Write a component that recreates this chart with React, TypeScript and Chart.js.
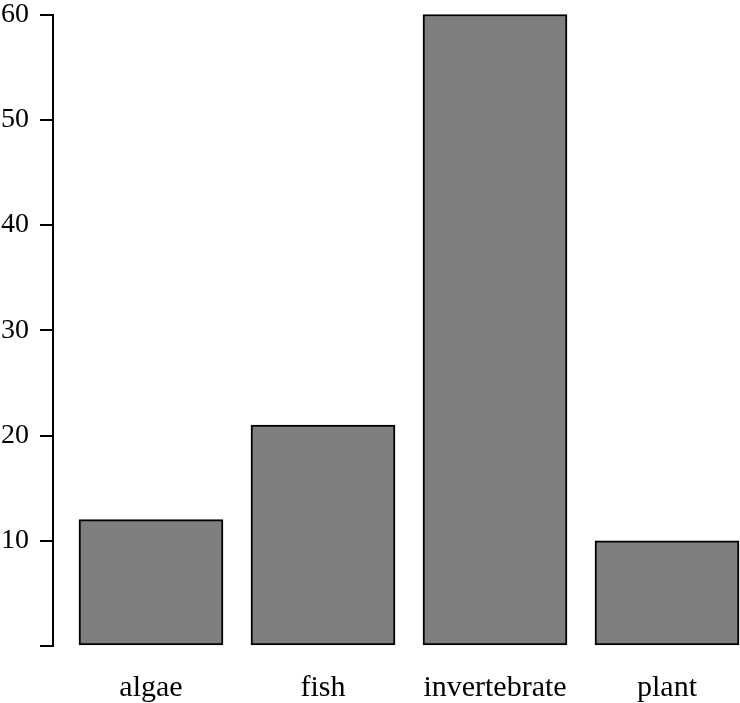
import React, { useEffect, useRef } from "react";
import { Chart, registerables } from "chart.js";

Chart.register(...registerables);

const categories = ["algae", "fish", "invertebrate", "plant"];
const values = [12, 21, 60, 10];
const yTicks = [0, 10, 20, 30, 40, 50, 60];

export default function App() {
  const ref = useRef<HTMLCanvasElement | null>(null);
  useEffect(() => {
    if (!ref.current) return;
    const font = "'Liberation Serif', 'Times New Roman', serif";
    const chart = new Chart(ref.current, {
      type: "bar",
      data: {
        datasets: [
          {
            data: values.map((v, i) => ({ x: i, y: v })),
            backgroundColor: "#7f7f7f",
            borderColor: "#000000",
            borderWidth: 2,
            borderSkipped: false,
            barThickness: 144,
            clip: false as any,
          },
        ],
      },
      options: {
        animation: false,
        responsive: false,
        events: [],
        layout: { padding: { top: 14.5, left: 0, right: 0, bottom: 0 } },
        plugins: { legend: { display: false }, tooltip: { enabled: false } },
        scales: {
          x: {
            type: "linear",
            offset: false,
            min: (53 - 151) / 172,
            max: (740 - 151) / 172,
            grid: { display: false },
            border: { display: false },
            afterFit: (s: any) => {
              s.height = 57;
              s.paddingLeft = 0;
              s.paddingRight = 0;
            },
            ticks: {
              stepSize: 1,
              includeBounds: false,
              autoSkip: false,
              maxRotation: 0,
              padding: 16,
              color: "#000",
              font: { family: font, size: 30 },
              callback: (v: any) =>
                Number.isInteger(v) && categories[v] !== undefined ? categories[v] : "",
            },
          },
          y: {
            min: yTicks[0],
            max: yTicks[yTicks.length - 1],
            afterFit: (s: any) => {
              s.width = 53;
              s.paddingTop = 0;
              s.paddingBottom = 0;
            },
            grid: {
              display: true,
              drawOnChartArea: false,
              drawTicks: true,
              tickLength: 13,
              color: "#000",
              lineWidth: 2,
            },
            border: { display: true, color: "#000", width: 2 },
            ticks: {
              stepSize: 10,
              padding: 11,
              color: "#000",
              font: { family: font, size: 28 },
              callback: (v: any) => (v === 0 ? "" : String(v)),
            },
          },
        },
      },
    });
    return () => chart.destroy();
  }, []);
  return (
    <div style={{ position: "absolute", left: 0, top: 0, width: 740, height: 703, background: "#fff" }}>
      <canvas ref={ref} width={740} height={703} />
    </div>
  );
}
